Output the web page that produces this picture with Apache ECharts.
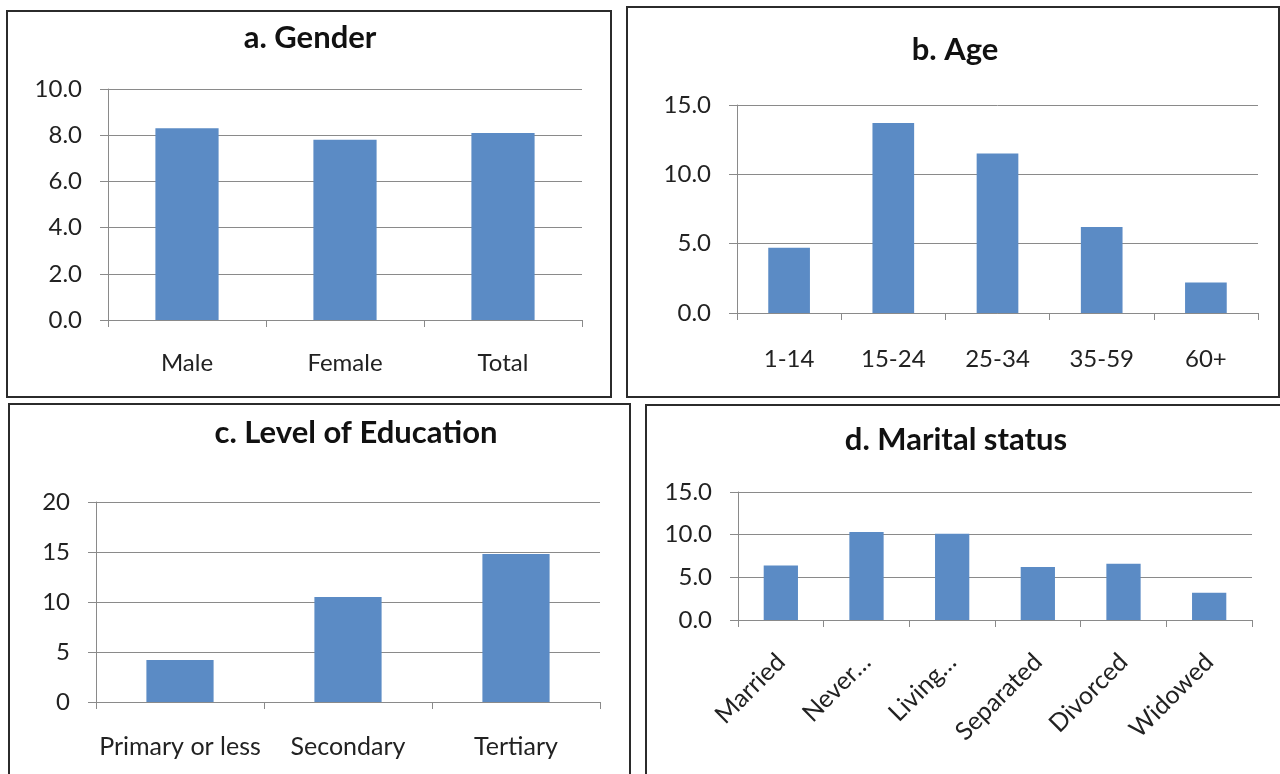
<!DOCTYPE html>
<html>
<head>
<meta charset="utf-8">
<title>Prevalence by group</title>
<script src="https://cdn.jsdelivr.net/npm/echarts@6/dist/echarts.min.js"></script>
<style>
  html, body { margin: 0; padding: 0; background: #fff; }
  #chart { width: 1280px; height: 774px; }
</style>
</head>
<body>
<div id="chart"></div>
<script>
// a. Gender
const genderCats = ['Male', 'Female', 'Total'];
const genderVals = [8.3, 7.8, 8.1];

// b. Age
const ageCats = ['1-14', '15-24', '25-34', '35-59', '60+'];
const ageVals = [4.7, 13.7, 11.5, 6.2, 2.2];

// c. Level of Education
const eduCats = ['Primary or less', 'Secondary', 'Tertiary'];
const eduVals = [4.2, 10.5, 14.8];

// d. Marital status
const maritalCats = ['Married', 'Never…', 'Living…', 'Separated', 'Divorced', 'Widowed'];
const maritalVals = [6.4, 10.3, 10.1, 6.2, 6.6, 3.2];

const FONT = 'Lato, "Open Sans", sans-serif';
const AXIS_GRAY = '#8a8a8a';
const BAR_BLUE = '#5b8bc5';
const LABEL_SIZE = 24;

function xAxisFor(gridIndex, cats, extraLabel) {
  return {
    type: 'category',
    gridIndex: gridIndex,
    data: cats,
    axisLine: { show: true, lineStyle: { color: AXIS_GRAY, width: 1 } },
    axisTick: { show: true, length: 7, lineStyle: { color: AXIS_GRAY } },
    axisLabel: Object.assign({
      color: '#222',
      fontFamily: FONT,
      fontSize: LABEL_SIZE,
      margin: 31,
      interval: 0
    }, extraLabel || {})
  };
}

function yAxisFor(gridIndex, max, step, digits) {
  return {
    type: 'value',
    gridIndex: gridIndex,
    min: 0,
    max: max,
    interval: step,
    axisLine: { show: true, lineStyle: { color: AXIS_GRAY, width: 1 } },
    axisTick: { show: true, length: 8, lineStyle: { color: AXIS_GRAY } },
    splitLine: { show: true, lineStyle: { color: AXIS_GRAY, width: 1 } },
    axisLabel: {
      color: '#222',
      fontFamily: FONT,
      fontSize: LABEL_SIZE,
      margin: 26,
      formatter: v => v.toFixed(digits)
    }
  };
}

function barSeries(index, values) {
  return {
    type: 'bar',
    xAxisIndex: index,
    yAxisIndex: index,
    data: values,
    barWidth: '40%',
    itemStyle: { color: BAR_BLUE },
    silent: true
  };
}

function panelTitle(text, cx, top) {
  return {
    text: text,
    left: cx,
    top: top,
    textAlign: 'center',
    textVerticalAlign: 'middle',
    textStyle: { fontFamily: FONT, fontSize: 31, fontWeight: 'bold', color: '#111' }
  };
}

function frame(x1, y1, x2, y2) {
  return {
    type: 'rect',
    shape: { x: x1, y: y1, width: x2 - x1, height: y2 - y1 },
    style: { fill: 'none', stroke: '#2b2b2b', lineWidth: 2 },
    silent: true
  };
}

const chart = echarts.init(document.getElementById('chart'), null, { renderer: 'canvas' });

chart.setOption({
  animation: false,
  backgroundColor: '#fff',
  title: [
    panelTitle('a. Gender', 305, 33),
    panelTitle('b. Age', 950, 45),
    panelTitle('c. Level of Education', 351, 428),
    panelTitle('d. Marital status', 951, 435)
  ],
  grid: [
    { left: 108, top: 89, width: 474, height: 231 },
    { left: 737, top: 105, width: 521, height: 208 },
    { left: 96, top: 502, width: 504, height: 200 },
    { left: 738, top: 492, width: 514, height: 128 }
  ],
  xAxis: [
    xAxisFor(0, genderCats),
    xAxisFor(1, ageCats, { margin: 34 }),
    xAxisFor(2, eduCats, { margin: 32, fontSize: 25 }),
    xAxisFor(3, maritalCats, { rotate: 45, margin: 38, fontSize: 25 })
  ],
  yAxis: [
    yAxisFor(0, 10, 2, 1),
    yAxisFor(1, 15, 5, 1),
    yAxisFor(2, 20, 5, 0),
    yAxisFor(3, 15, 5, 1)
  ],
  series: [
    barSeries(0, genderVals),
    barSeries(1, ageVals),
    barSeries(2, eduVals),
    barSeries(3, maritalVals)
  ],
  graphic: [
    frame(7, 11, 611, 397),
    frame(627, 7, 1279, 397),
    frame(9, 404, 630, 778),
    frame(646, 405, 1284, 778)
  ]
});
</script>
</body>
</html>
